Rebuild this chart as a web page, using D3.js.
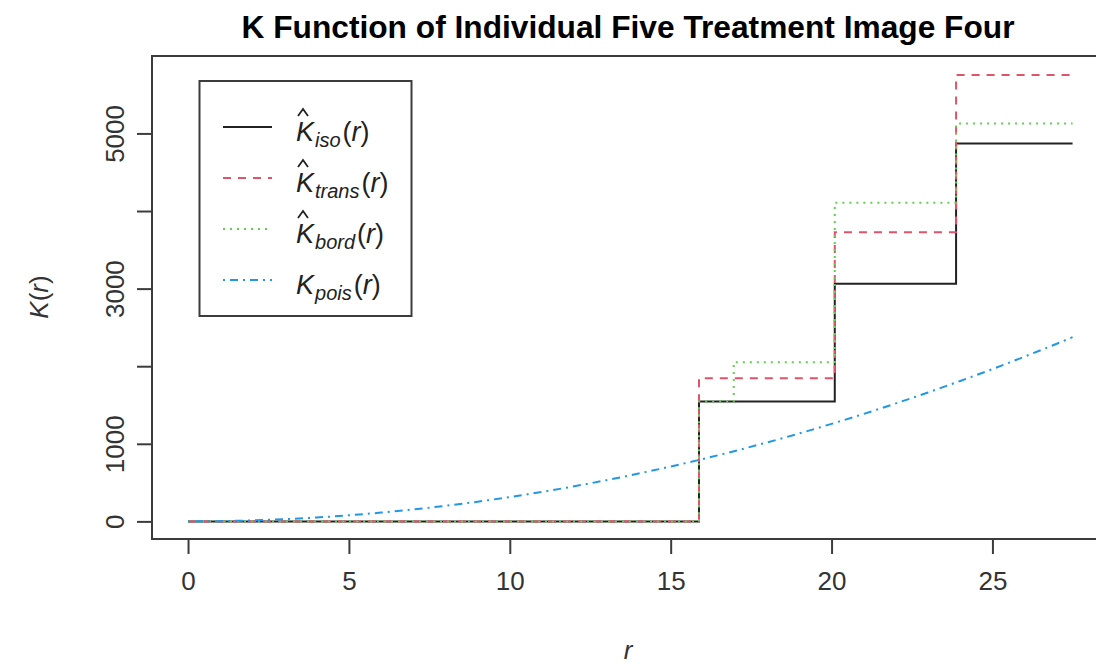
<!DOCTYPE html>
<html>
<head>
<meta charset="utf-8">
<script src="https://cdn.jsdelivr.net/npm/d3@7"></script>
<style>
  html, body { margin: 0; padding: 0; background: #ffffff; }
  svg { display: block; font-family: "Liberation Sans", Arial, sans-serif; }
</style>
</head>
<body>
<svg id="chart" width="1096" height="664"></svg>
<script>
// Estimated K function for one point pattern, with three edge corrections
// and the theoretical Poisson reference curve.

// Step estimates: r at which each step starts, and the value after it
const stepR       = [0, 15.88, 20.10, 23.87, 27.49];
const isoValues   = [0, 1545, 3064, 4871, 4871];
const transValues = [0, 1846, 3726, 5754, 5754];

const bordR      = [0, 15.88, 16.96, 20.10, 23.87, 27.49];
const bordValues = [0, 1545, 2052, 4107, 5129, 5129];

// Poisson reference K(r)
const poisR = [0, 1, 2, 3, 4, 5, 6, 7, 8, 9, 10, 11, 12, 13, 14, 15, 16, 17, 18, 19, 20,
               21, 22, 23, 24, 25, 26, 27, 27.49];
const poisValues = [0, 3, 13, 28, 50, 79, 113, 154, 201, 254, 314, 380, 452, 531, 616, 707,
                    804, 908, 1018, 1134, 1257, 1385, 1521, 1662, 1810, 1963, 2124, 2290, 2374];

const xTicks = [0, 5, 10, 15, 20, 25];
const yTicks = [0, 1000, 2000, 3000, 4000, 5000];
const yTickLabels = ["0", "1000", "", "3000", "", "5000"];

const legendItems = [
  { main: "K", hat: true,  sub: "iso",   color: "#222222", dash: null },
  { main: "K", hat: true,  sub: "trans", color: "#DF536B", dash: "8,7" },
  { main: "K", hat: true,  sub: "bord",  color: "#61D04F", dash: "2,5" },
  { main: "K", hat: false, sub: "pois",  color: "#2297E6", dash: "2,5,8,5" }
];

const titleText = "K Function of Individual Five Treatment Image Four";

const svg = d3.select("#chart");

// plot region (frame extends a little past the right edge of the page)
const plotLeft = 152, plotRight = 1125, plotTop = 56, plotBottom = 539;

const x = d3.scaleLinear().domain([-1.12, 29.12]).range([plotLeft, plotRight]);
const y = d3.scaleLinear().domain([-227, 5998]).range([plotBottom, plotTop]);

const axisColor = "#3c3c3c";
const textColor = "#333333";

// frame
svg.append("rect")
  .attr("x", plotLeft).attr("y", plotTop)
  .attr("width", plotRight - plotLeft).attr("height", plotBottom - plotTop)
  .attr("fill", "none").attr("stroke", axisColor).attr("stroke-width", 2);

// x axis
const xAxis = d3.axisBottom(x).tickValues(xTicks).tickSize(15).tickPadding(18)
  .tickFormat(d3.format("d"));
const gx = svg.append("g").attr("transform", `translate(0,${plotBottom})`).call(xAxis);
gx.select(".domain").remove();
gx.selectAll(".tick line").attr("stroke", axisColor).attr("stroke-width", 2);
gx.selectAll(".tick text").attr("fill", textColor).attr("font-size", 26)
  .attr("font-family", "Liberation Sans, Arial, sans-serif");

// y axis, labels written parallel to the axis
const yAxis = d3.axisLeft(y).tickValues(yTicks).tickSize(15).tickPadding(0)
  .tickFormat((d, i) => yTickLabels[i]);
const gy = svg.append("g").attr("transform", `translate(${plotLeft},0)`).call(yAxis);
gy.select(".domain").remove();
gy.selectAll(".tick line").attr("stroke", axisColor).attr("stroke-width", 2);
gy.selectAll(".tick text")
  .attr("fill", textColor).attr("font-size", 26)
  .attr("font-family", "Liberation Sans, Arial, sans-serif")
  .attr("x", 0).attr("y", 0)
  .attr("text-anchor", "middle")
  .attr("transform", "translate(-37,0) rotate(-90)")
  .attr("dy", "0.35em");

// title
svg.append("text")
  .attr("x", 628).attr("y", 38)
  .attr("text-anchor", "middle")
  .attr("font-size", 31).attr("font-weight", "bold")
  .attr("fill", "#000")
  .attr("textLength", 773).attr("lengthAdjust", "spacingAndGlyphs")
  .text(titleText);

// axis titles
const yl = svg.append("text")
  .attr("transform", "translate(48,297) rotate(-90)")
  .attr("text-anchor", "middle")
  .attr("font-size", 26).attr("font-style", "italic").attr("fill", textColor);
yl.append("tspan").text("K");
yl.append("tspan").attr("font-style", "normal").text("(");
yl.append("tspan").text("r");
yl.append("tspan").attr("font-style", "normal").text(")");

svg.append("text")
  .attr("x", 628).attr("y", 659)
  .attr("text-anchor", "middle")
  .attr("font-size", 26).attr("font-style", "italic").attr("fill", textColor)
  .text("r");

// curves
const stepLine = d3.line().x(d => x(d[0])).y(d => y(d[1])).curve(d3.curveStepAfter);
const smoothLine = d3.line().x(d => x(d[0])).y(d => y(d[1])).curve(d3.curveMonotoneX);

const series = [
  { pts: d3.zip(stepR, isoValues),   gen: stepLine,   style: legendItems[0] },
  { pts: d3.zip(stepR, transValues), gen: stepLine,   style: legendItems[1] },
  { pts: d3.zip(bordR, bordValues),  gen: stepLine,   style: legendItems[2] },
  { pts: d3.zip(poisR, poisValues),  gen: smoothLine, style: legendItems[3] }
];

svg.append("g").selectAll("path")
  .data(series)
  .join("path")
  .attr("d", s => s.gen(s.pts))
  .attr("fill", "none")
  .attr("stroke", s => s.style.color)
  .attr("stroke-width", 2)
  .attr("stroke-dasharray", s => s.style.dash);

// legend
const lg = svg.append("g");
lg.append("rect")
  .attr("x", 199.5).attr("y", 81)
  .attr("width", 212).attr("height", 235)
  .attr("fill", "#fff").attr("stroke", axisColor).attr("stroke-width", 2);

const rowY = [127, 178, 229, 280];
const rows = lg.selectAll("g.row").data(legendItems).join("g")
  .attr("class", "row")
  .attr("transform", (d, i) => `translate(0,${rowY[i]})`);

rows.append("line")
  .attr("x1", 223).attr("x2", 272).attr("y1", 0).attr("y2", 0)
  .attr("stroke", d => d.color).attr("stroke-width", 2)
  .attr("stroke-dasharray", d => d.dash);

const lt = rows.append("text")
  .attr("x", 296).attr("y", 14)
  .attr("font-size", 27).attr("fill", "#222");
lt.append("tspan").attr("font-style", "italic").text(d => d.main);
lt.append("tspan").attr("font-style", "italic").attr("font-size", 20)
  .attr("dx", 1).attr("dy", 6)
  .text(d => d.sub);
lt.append("tspan").attr("dx", 2).attr("dy", -6).text("(");
lt.append("tspan").attr("font-style", "italic").text("r");
lt.append("tspan").text(")");

// circumflex accent over the estimator symbol
rows.filter(d => d.hat).append("path")
  .attr("d", "M298,-11 L303,-18 L308,-11")
  .attr("fill", "none").attr("stroke", "#222").attr("stroke-width", 1.8);
</script>
</body>
</html>
